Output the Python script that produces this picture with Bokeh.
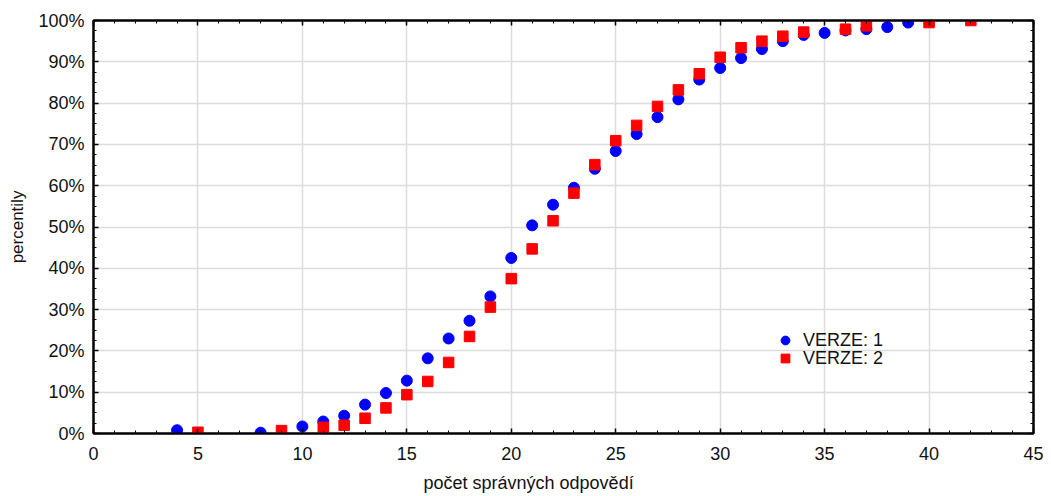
from bokeh.plotting import figure
from bokeh.layouts import row
from bokeh.models import (Range1d, LinearAxis, SingleIntervalTicker, PrintfTickFormatter,
                          CustomJSTickFormatter, Legend, LegendItem, Spacer, Title)
from bokeh.embed import file_html
from bokeh.resources import INLINE

# data
v1_x = [4, 8, 10, 11, 12, 13, 14, 15, 16, 17, 18, 19, 20, 21, 22, 23, 24, 25, 26, 27,
        28, 29, 30, 31, 32, 33, 34, 35, 36, 37, 38, 39]
v1_y = [0.8, 0.2, 1.7, 2.9, 4.3, 7.0, 9.8, 12.8, 18.2, 23.0, 27.3, 33.2, 42.5, 50.4, 55.4,
        59.5, 64.1, 68.4, 72.5, 76.6, 80.9, 85.7, 88.5, 90.9, 93.1, 95.0, 96.5, 97.0, 97.6,
        97.9, 98.4, 99.5]
v2_x = [5, 9, 11, 12, 13, 14, 15, 16, 17, 18, 19, 20, 21, 22, 23, 24, 25, 26, 27, 28, 29,
        30, 31, 32, 33, 34, 36, 37, 40, 42]
v2_y = [0.3, 0.7, 1.5, 2.0, 3.7, 6.2, 9.4, 12.6, 17.2, 23.5, 30.6, 37.5, 44.7, 51.5, 58.2,
        65.1, 70.9, 74.6, 79.2, 83.2, 87.1, 91.1, 93.4, 95.0, 96.2, 97.2, 97.9, 98.7, 99.5,
        100.0]
series_names = ["VERZE: 1", "VERZE: 2"]
x_label = "počet správných odpovědí"
y_label = "percentily"

FONT = "Liberation Sans"

p = figure(frame_width=940, frame_height=413, output_backend="svg", toolbar_location=None,
           x_range=Range1d(0, 45), y_range=Range1d(0, 100),
           min_border_left=10, min_border_right=10, min_border_top=20, min_border_bottom=10,
           y_axis_label=y_label)
p.outline_line_color = "black"
p.outline_line_width = 2
p.background_fill_color = "white"
p.border_fill_color = "white"

bottom = p.below[0]
left = p.left[0]

xt = SingleIntervalTicker(interval=5, num_minor_ticks=5)
yt = SingleIntervalTicker(interval=10, num_minor_ticks=4)
bottom.ticker = xt
left.ticker = yt
left.formatter = PrintfTickFormatter(format="%d%%")

p.xgrid.ticker = xt
p.ygrid.ticker = yt
for g in (p.xgrid, p.ygrid):
    g.grid_line_color = "#dcdcdc"
    g.grid_line_width = 1.5

blank = CustomJSTickFormatter(code="return '';")
top = LinearAxis(ticker=xt, formatter=blank, major_label_standoff=0)
right = LinearAxis(ticker=yt, formatter=blank, major_label_standoff=0)
p.add_layout(top, "above")
p.add_layout(right, "right")

for ax in [bottom, left, top, right]:
    ax.axis_line_color = "black"
    ax.axis_line_width = 2
    ax.major_tick_in = 5
    ax.major_tick_out = 0
    ax.minor_tick_in = 3
    ax.minor_tick_out = 0
    ax.major_tick_line_color = "black"
    ax.minor_tick_line_color = "black"
    ax.major_tick_line_width = 1.5
    ax.minor_tick_line_width = 1

for ax in [bottom, left]:
    ax.major_label_text_font = FONT
    ax.major_label_text_font_size = "18px"
    ax.major_label_text_color = "#111111"
    ax.axis_label_text_font = FONT
    ax.axis_label_text_font_style = "normal"
    ax.axis_label_text_color = "#111111"
left.axis_label_text_font_size = "17px"
bottom.major_label_standoff = 13
left.major_label_standoff = 9
left.axis_label_standoff = 8

# x-axis title, centred on the whole picture as in the reference
xtitle = Title(text=x_label, align="left", offset=330, standoff=16,
               text_font=FONT, text_font_size="18px", text_font_style="normal",
               text_color="#111111")
p.add_layout(xtitle, "below")

r1 = p.scatter(v1_x, v1_y, marker="circle", size=11, color="#0000ff", line_color="#0000ff")
r2 = p.scatter(v2_x, v2_y, marker="square", size=10.5, color="#ff0000", line_color="#ff0000")


def make_legend(label, renderer, loc):
    lg = Legend(items=[LegendItem(label=label, renderers=[renderer])], location=loc)
    lg.background_fill_alpha = 0
    lg.border_line_alpha = 0
    lg.padding = 0
    lg.margin = 0
    lg.glyph_width = 22
    lg.glyph_height = 22
    lg.label_height = 22
    lg.label_standoff = 7
    lg.label_text_font = FONT
    lg.label_text_font_size = "18px"
    lg.label_text_color = "#111111"
    return lg


p.add_layout(make_legend(series_names[0], r1, (681, 82)), "center")
p.add_layout(make_legend(series_names[1], r2, (681, 64)), "center")

layout = row(Spacer(width=5, height=10), p)
open("out.html", "w").write(file_html(layout, INLINE))
